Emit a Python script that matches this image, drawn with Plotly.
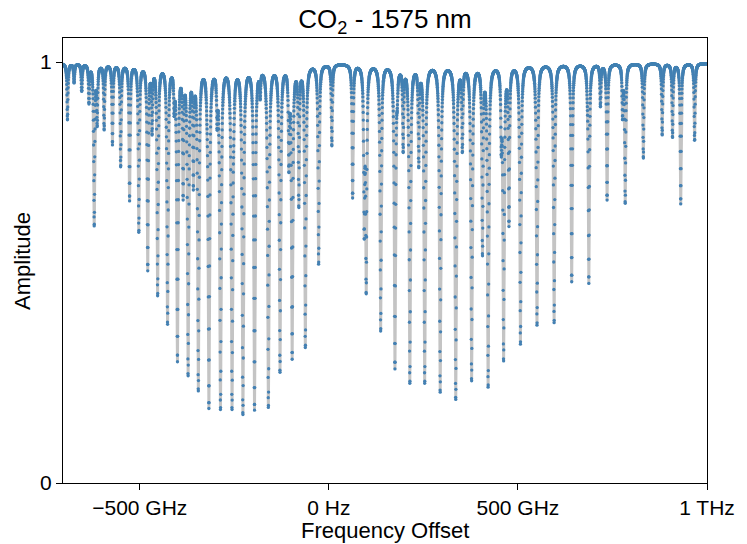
import numpy as np
import plotly.graph_objects as go

# ---- data (frequency offset in GHz, minimum amplitude) ----
strong_center_ghz = [-691.2, -673.7, -653.5, -634.3, -620.4, -612.6, -594.2, -572.2, -550.5,
                     -526.9, -502.5, -478.9, -452.7, -426.5, -400.3, -372.2, -345.2, -317.2,
                     -286.5, -256.1, -227.3, -196.6, -159.9, -129.2, -97.0, -62.1, -27.0, 7.9,
                     62.9, 98.8, 137.1, 174.8, 214.2, 253.5, 294.4, 335.5, 377.5, 421.2, 462.1,
                     506.7, 550.5, 595.8, 642.2, 687.5, 735.8, 783.7, 831.7, 881.5, 908.8,
                     930.5, 967.2]
strong_min_amp = [0.862, 0.95, 0.93, 0.90, 0.609, 0.846, 0.838, 0.803, 0.75,
                  0.67, 0.594, 0.504, 0.443, 0.375, 0.288, 0.253, 0.217, 0.177,
                  0.173, 0.173, 0.161, 0.173, 0.178, 0.261, 0.294, 0.32, 0.518, 0.80,
                  0.677, 0.447, 0.359, 0.271, 0.235, 0.235, 0.214, 0.197, 0.241, 0.226, 0.288,
                  0.328, 0.373, 0.379, 0.478, 0.474, 0.672, 0.663, 0.771, 0.826, 0.82,
                  0.663, 0.813]

weak_center_ghz = [-467.4, -408.9, -385.3, -358.3, -322.4, -295.4, -251.6, -181.6, -105.6,
                   -79.4, 93.6, 180.9, 196.6, 237.7, 353.1, 406.3, 456.1, 476.3, 683.4,
                   718.2, 776.7]
weak_min_amp = [0.826, 0.87, 0.672, 0.696, 0.855, 0.838, 0.796, 0.91, 0.736,
                0.653, 0.577, 0.886, 0.784, 0.748, 0.784, 0.538, 0.775, 0.609, 0.90,
                0.893, 0.862]

baseline_amp = 0.997
line_hwhm_ghz = 1.4
x_range_ghz = [-703, 1000]
tick_vals_ghz = [-500, 0, 500, 1000]
tick_text = ["\u2212500 GHz", "0 Hz", "500 GHz", "1 THz"]

# ---- build spectrum from the line list ----
centers = np.array(strong_center_ghz + weak_center_ghz)
mins = np.array(strong_min_amp + weak_min_amp)
freq = np.arange(x_range_ghz[0], x_range_ghz[1] + 0.001, 0.3)


def profile(f, c):
    g = line_hwhm_ghz
    return g * g / (g * g + (f[:, None] - c[None, :]) ** 2)


A = -np.log(mins / baseline_amp)
Pc = profile(centers, centers)
for _ in range(30):
    Tc = baseline_amp * np.exp(-(Pc @ A))
    A = np.clip(A + np.log(Tc / mins), 0, None)

amp = baseline_amp * np.exp(-(profile(freq, centers) @ A))

fig = go.Figure()
fig.add_trace(go.Scatter(
    x=freq, y=amp, mode="lines+markers",
    line=dict(color="#c4c4c4", width=3),
    marker=dict(color="#4380b3", size=3.3, line=dict(width=0)),
    showlegend=False, hoverinfo="skip"))

font = "Liberation Sans, Arial, Helvetica, sans-serif"
fig.update_layout(
    width=747, height=544,
    margin=dict(l=63, r=34, t=38, b=61),
    paper_bgcolor="white", plot_bgcolor="white",
    font=dict(family=font, size=21, color="black"),
    title=dict(text="CO<sub>2</sub> - 1575 nm", x=0.5, xref="paper", xanchor="center",
               y=1 - 19 / 544, yanchor="middle", font=dict(size=26)),
    showlegend=False,
)
fig.update_xaxes(range=x_range_ghz, tickvals=tick_vals_ghz, ticktext=tick_text,
                 showgrid=False, zeroline=False, showline=True, mirror=True,
                 linecolor="black", linewidth=1.2, ticks="outside", ticklen=6,
                 tickwidth=1.2, tickcolor="black", tickfont=dict(size=21))
fig.update_yaxes(range=[0, 1.057], tickvals=[0, 1], ticktext=["0", "1"],
                 showgrid=False, zeroline=False, showline=True, mirror=True,
                 linecolor="black", linewidth=1.2, ticks="outside", ticklen=6,
                 tickwidth=1.2, tickcolor="black", tickfont=dict(size=21))
fig.add_annotation(text="Frequency Offset", xref="paper", yref="paper", x=0.5,
                   y=-(530 - 483) / 445, xanchor="center", yanchor="middle",
                   showarrow=False, font=dict(size=22))
fig.add_annotation(text="Amplitude", xref="paper", yref="paper", x=(22 - 63) / 650,
                   y=0.5, xanchor="center", yanchor="middle", textangle=-90,
                   showarrow=False, font=dict(size=22))

fig.write_html("out.html", config={"displayModeBar": False},
               post_script="document.body.style.margin='0';")
